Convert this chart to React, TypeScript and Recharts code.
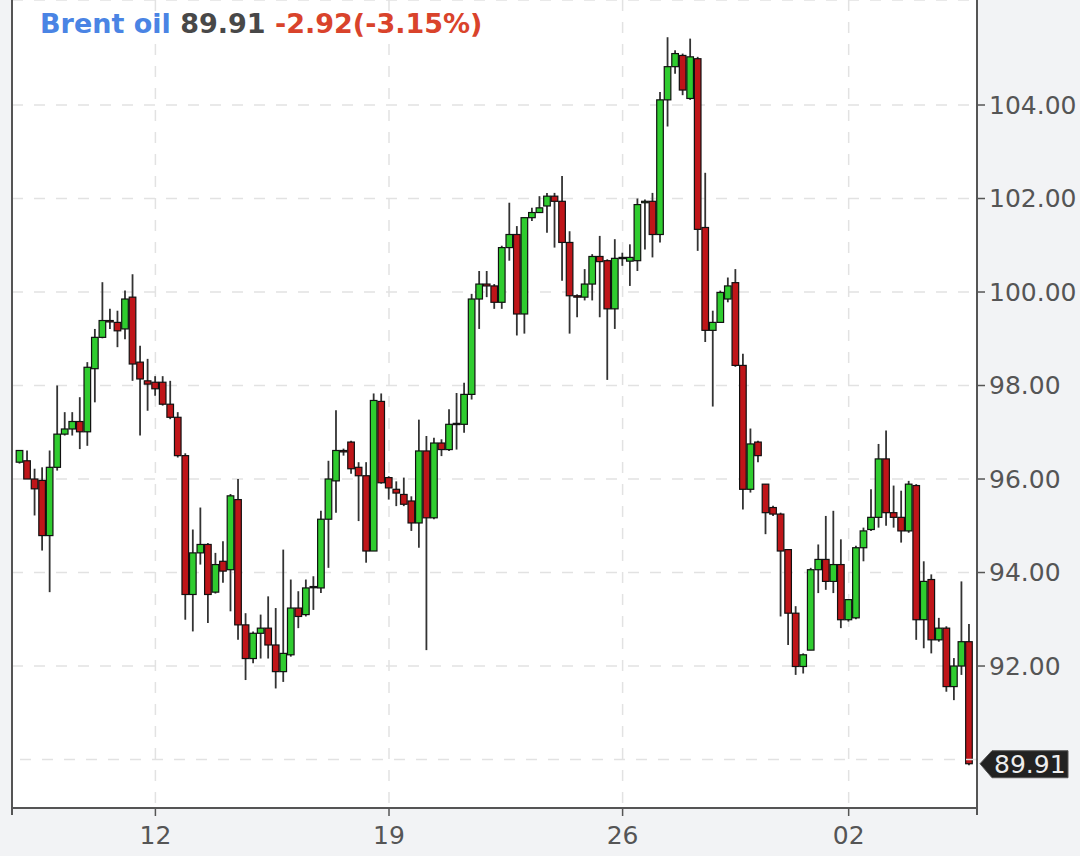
import React from 'react';
import { ComposedChart, Bar, XAxis, YAxis, CartesianGrid, ReferenceLine } from 'recharts';

// 4-hour candles
const opens = [
  96.36, 96.39, 96.0, 95.97, 94.79, 96.25, 96.96, 97.07, 97.23, 97.01,
  98.36, 99.03, 99.39, 99.35, 99.21, 99.89, 98.5, 98.1, 98.07, 98.07,
  97.6, 97.32, 96.5, 93.53, 94.42, 94.6, 93.58, 94.24, 94.06, 95.56,
  92.88, 92.16, 92.7, 92.81, 92.45, 91.88, 92.24, 93.24, 93.1, 93.7,
  93.67, 95.14, 95.96, 96.61, 96.79, 96.25, 96.07, 94.46, 97.66, 96.03,
  95.78, 95.67, 95.53, 95.06, 96.6, 95.17, 96.77, 96.63, 97.17, 97.17,
  97.81, 99.85, 100.17, 100.13, 99.78, 100.95, 101.23, 99.53, 101.59, 101.7,
  101.84, 102.05, 101.94, 101.06, 99.92, 99.89, 100.17, 100.76, 100.67, 99.64,
  100.74, 100.66, 100.67, 101.91, 101.94, 101.23, 104.11, 104.82, 105.06, 104.14,
  104.99, 101.38, 99.18, 99.35, 99.85, 100.2, 98.43, 95.78, 96.79, 95.89,
  95.39, 95.25, 94.49, 93.13, 91.99, 92.34, 94.06, 94.28, 93.81, 94.17,
  92.99, 93.03, 94.53, 94.92, 95.18, 96.43, 95.28, 95.18, 94.89, 95.86,
  92.99, 93.85, 92.56, 92.81, 91.56, 92.0, 92.52,
];
const highs = [
  96.61, 96.61, 96.22, 96.25, 96.61, 98.0, 97.43, 97.43, 97.75, 98.5,
  99.21, 100.21, 99.64, 99.6, 100.03, 100.38, 98.85, 98.57, 98.2, 98.2,
  98.1, 97.43, 96.55, 94.92, 95.39, 94.63, 94.42, 94.67, 95.68, 96.0,
  93.13, 92.74, 93.1, 93.49, 93.24, 94.49, 93.85, 93.6, 93.85, 93.92,
  95.32, 96.39, 97.47, 96.65, 96.82, 96.36, 96.36, 97.83, 97.83, 96.06,
  95.95, 96.03, 95.63, 97.27, 96.92, 96.88, 96.85, 97.49, 97.84, 98.06,
  99.96, 100.45, 100.45, 100.17, 100.99, 101.91, 101.41, 101.59, 101.8, 102.05,
  102.12, 102.12, 102.48, 101.3, 99.95, 100.49, 100.81, 101.2, 100.7, 101.13,
  100.84, 101.02, 102.0, 101.98, 102.12, 104.28, 105.45, 105.17, 105.1, 105.42,
  105.03, 102.55, 99.6, 100.03, 100.31, 100.49, 98.68, 97.08, 96.82, 95.89,
  95.43, 95.28, 94.49, 93.28, 92.27, 94.1, 94.6, 95.21, 95.32, 94.71,
  93.42, 94.57, 94.96, 95.78, 96.75, 97.04, 95.86, 95.75, 95.96, 95.89,
  94.24, 93.96, 93.03, 92.85, 92.17, 93.81, 92.9,
];
const lows = [
  96.33, 96.0, 95.22, 94.47, 93.58, 96.18, 96.93, 96.93, 96.64, 96.71,
  97.64, 99.01, 99.21, 98.82, 98.99, 98.1, 96.93, 97.46, 97.78, 97.57,
  97.28, 96.46, 92.99, 92.74, 94.17, 92.92, 93.55, 93.78, 93.17, 92.56,
  91.7, 92.06, 92.16, 92.16, 91.52, 91.66, 92.2, 92.81, 93.06, 93.2,
  93.56, 94.1, 95.28, 96.5, 96.11, 95.1, 94.21, 94.46, 95.9, 95.56,
  95.42, 95.42, 94.89, 94.53, 92.34, 95.14, 96.49, 96.6, 96.63, 96.99,
  97.7, 99.21, 99.89, 99.64, 99.64, 100.67, 99.07, 99.11, 101.52, 101.7,
  101.27, 100.95, 100.24, 99.11, 99.46, 99.82, 99.82, 99.46, 98.12, 99.21,
  100.56, 100.13, 100.45, 100.91, 100.74, 101.06, 103.54, 104.67, 104.21, 104.11,
  100.88, 98.93, 97.55, 99.35, 99.78, 98.4, 95.35, 95.71, 96.36, 94.82,
  95.21, 93.06, 92.45, 91.81, 91.84, 92.34, 93.56, 93.63, 93.56, 92.81,
  92.95, 93.0, 94.24, 94.89, 94.96, 95.0, 94.96, 94.64, 94.85, 92.56,
  92.38, 92.27, 92.52, 91.45, 91.27, 91.81, 89.88,
];
const closes = [
  96.61, 96.0, 95.79, 94.79, 96.25, 96.96, 97.07, 97.23, 97.01, 98.39,
  99.03, 99.39, 99.36, 99.17, 99.85, 98.46, 98.14, 98.03, 97.93, 97.6,
  97.32, 96.5, 93.53, 94.42, 94.6, 93.53, 94.17, 94.03, 95.64, 92.88,
  92.16, 92.7, 92.81, 92.45, 91.88, 92.27, 93.24, 93.06, 93.67, 93.7,
  95.14, 96.0, 96.61, 96.58, 96.22, 96.07, 94.46, 97.68, 95.92, 95.81,
  95.7, 95.46, 95.06, 96.6, 95.17, 96.77, 96.63, 97.17, 97.19, 97.81,
  99.85, 100.17, 100.13, 99.78, 100.95, 101.23, 99.53, 101.59, 101.7, 101.8,
  102.05, 101.94, 101.06, 99.92, 99.89, 100.17, 100.76, 100.65, 99.64, 100.72,
  100.72, 100.74, 101.87, 101.94, 101.23, 104.11, 104.82, 105.1, 104.32, 105.03,
  101.34, 99.18, 99.35, 99.99, 100.13, 98.43, 95.78, 96.75, 96.5, 95.28,
  95.25, 94.46, 93.13, 91.99, 92.24, 94.06, 94.28, 93.81, 94.17, 92.99,
  93.42, 94.53, 94.89, 95.18, 96.43, 95.28, 95.18, 94.89, 95.89, 92.99,
  93.81, 92.56, 92.81, 91.56, 92.0, 92.52, 89.91,
];

// week starts on the time axis (candle index -> day label)
const tickIndex = [19, 50, 81, 111];
const tickLabels = ['12', '19', '26', '02'];
const priceTicks = [92, 94, 96, 98, 100, 102, 104];

const data = opens.map((o, k) => ({
  i: k + 1,
  open: o,
  high: highs[k],
  low: lows[k],
  close: closes[k],
  range: [lows[k], highs[k]],
}));

const last = closes[closes.length - 1];
const change = -2.92;
const changePct = -3.15;

const UP = '#2fcc2f';
const DOWN = '#bf1519';

const Candle = (props: any) => {
  const { x, y, width, height, payload } = props;
  if (!payload) return null;
  const { open, close, high, low } = payload;
  const top = Math.min(y, y + height);
  const h = Math.abs(height);
  const ppu = high > low ? h / (high - low) : 0;
  const cx = x + width / 2;
  const bTop = top + (high - Math.max(open, close)) * ppu;
  const bBot = top + (high - Math.min(open, close)) * ppu;
  const bw = 6.6;
  return (
    <g>
      <line x1={cx} x2={cx} y1={top} y2={top + h} stroke="#333" strokeWidth={1.8} />
      <rect
        x={cx - bw / 2}
        y={bTop}
        width={bw}
        height={Math.max(bBot - bTop, 1.2)}
        fill={close >= open ? UP : DOWN}
        stroke="#111"
        strokeWidth={1.2}
      />
    </g>
  );
};

const PriceTag = (props: any) => {
  const vb = props.viewBox;
  if (!vb) return null;
  const x0 = vb.x + vb.width + 3;
  const y0 = vb.y;
  const path = `M${x0},${y0} L${x0 + 12},${y0 - 13} L${x0 + 88},${y0 - 13} L${x0 + 88},${y0 + 14} L${x0 + 12},${y0 + 14} Z`;
  return (
    <g>
      <path d={path} fill="#222" stroke="#555" strokeWidth={1} />
      <text x={x0 + 14} y={y0} dy="0.36em" fill="#eee" fontSize={25} fontFamily="DejaVu Sans">
        {last.toFixed(2)}
      </text>
    </g>
  );
};

export default function App() {
  const axisText = { fill: '#555', fontSize: 25, fontFamily: 'DejaVu Sans' };
  return (
    <div style={{ position: 'absolute', left: 0, top: 0, width: 1080, height: 856, background: '#f2f3f5', overflow: 'hidden' }}>
      <ComposedChart width={1080} height={856} data={data} margin={{ top: 0, right: 0, bottom: 0, left: 12 }}>
        <CartesianGrid yAxisId="p" stroke="#e2e2e2" strokeWidth={1.5} strokeDasharray="11 11" fill="#fff" />
        <XAxis
          dataKey="i"
          type="category"
          padding={{ left: 4, right: 4 }}
          ticks={tickIndex}
          tickFormatter={(v: number) => tickLabels[tickIndex.indexOf(v)] ?? ''}
          height={48}
          tickSize={8}
          tickMargin={10}
          axisLine={{ stroke: '#555', strokeWidth: 2 }}
          tickLine={{ stroke: '#555', strokeWidth: 1.5 }}
          tick={axisText}
        />
        <YAxis
          yAxisId="p"
          orientation="right"
          width={103}
          domain={[88.963, 106.246]}
          allowDataOverflow
          ticks={priceTicks}
          tickFormatter={(v: number) => v.toFixed(2)}
          tickSize={8}
          tickMargin={4}
          axisLine={{ stroke: '#555', strokeWidth: 2 }}
          tickLine={{ stroke: '#555', strokeWidth: 1.5 }}
          tick={axisText}
        />
        <ReferenceLine yAxisId="p" y={90} stroke="#e2e2e2" strokeWidth={1.5} strokeDasharray="11 11" />
        <Bar yAxisId="p" dataKey="range" barSize={7} shape={<Candle />} isAnimationActive={false} />
        <ReferenceLine yAxisId="p" y={last} stroke="#000" strokeOpacity={0} label={<PriceTag />} />
      </ComposedChart>
      {/* frame pieces */}
      <div style={{ position: 'absolute', left: 11, top: 0, width: 2, height: 815, background: '#555' }} />
      <div style={{ position: 'absolute', left: 976, top: 808, width: 2, height: 7, background: '#555' }} />
      <svg width={540} height={50} style={{ position: 'absolute', left: 0, top: 0 }}>
        <text x={40} y={33} fontFamily="DejaVu Sans" fontWeight="bold" fontSize={27}>
          <tspan fill="#4a84e4">Brent oil</tspan>
          <tspan fill="#484848"> {last.toFixed(2)}</tspan>
          <tspan fill="#d9432b"> {change.toFixed(2)}({changePct.toFixed(2)}%)</tspan>
        </text>
      </svg>
    </div>
  );
}
